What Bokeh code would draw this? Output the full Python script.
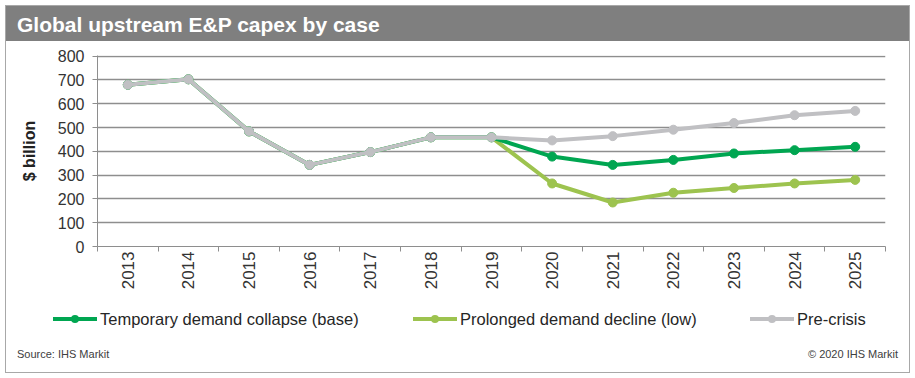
from bokeh.plotting import figure
from bokeh.layouts import column
from bokeh.models import Range1d, FixedTicker, Div
from bokeh.embed import file_html
from bokeh.resources import INLINE
from math import pi

# ---- data ----
years = [2013, 2014, 2015, 2016, 2017, 2018, 2019, 2020, 2021, 2022, 2023, 2024, 2025]
base = [680, 703, 484, 343, 397, 459, 459, 378, 343, 364, 391, 405, 419]
low = [680, 703, 484, 343, 397, 459, 459, 265, 185, 226, 246, 265, 280]
pre_crisis = [680, 703, 484, 343, 397, 459, 459, 446, 464, 491, 519, 552, 570]
y_ticks = [0, 100, 200, 300, 400, 500, 600, 700, 800]
series_names = ["Temporary demand collapse (base)", "Prolonged demand decline (low)", "Pre-crisis"]
title_text = "Global upstream E&amp;P capex by case"
source_text = "Source: IHS Markit"
copyright_text = "\u00a9 2020 IHS Markit"

C_BASE = "#00a651"
C_LOW = "#9dc34f"
C_PRE = "#c0c0c3"
series_colors = [C_BASE, C_LOW, C_PRE]
FONT = "Liberation Sans"

W = 903
H_HEAD, H_MAIN, H_LEG, H_FOOT = 35, 258, 40, 33
FL, FR, FT, FB = 91, 879, 14, 205  # frame edges in main canvas px

# ---- header (title bar) ----
head = Div(text=(
    '<div style="box-sizing:border-box;width:%dpx;height:%dpx;overflow:hidden;'
    'background:#7f7f7f;color:#ffffff;font-family:\'%s\';font-weight:bold;'
    'font-size:21px;line-height:37px;padding-left:11px;white-space:nowrap;">%s</div>'
    % (W, H_HEAD, FONT, title_text)), width=W, height=H_HEAD, margin=0)

# ---- main chart ----
p = figure(width=W, height=H_MAIN, output_backend="svg", toolbar_location=None,
           x_range=Range1d(years[0] - 0.5, years[-1] + 0.5), y_range=Range1d(0, 803),
           min_border_left=FL, min_border_right=W - FR, min_border_top=FT,
           min_border_bottom=H_MAIN - FB)
p.outline_line_color = None
p.background_fill_color = "white"
p.border_fill_color = "white"

p.xgrid.grid_line_color = None
p.ygrid.ticker = FixedTicker(ticks=y_ticks)
p.ygrid.grid_line_color = "#8e8e8e"
p.ygrid.grid_line_width = 1.3

ya = p.yaxis[0]
ya.ticker = FixedTicker(ticks=y_ticks)
ya.axis_line_color = "#8e8e8e"
ya.major_tick_line_color = "#8e8e8e"
ya.major_tick_out = 5
ya.major_tick_in = 0
ya.minor_tick_line_color = None
ya.major_label_standoff = 8
ya.major_label_text_font = FONT
ya.major_label_text_font_size = "16px"
ya.major_label_text_color = "#333333"
ya.axis_label = "$ billion"
ya.axis_label_text_font = FONT
ya.axis_label_text_font_size = "16px"
ya.axis_label_text_font_style = "bold"
ya.axis_label_text_color = "#222222"
ya.axis_label_standoff = 17

xa = p.xaxis[0]
minor = [y - 0.5 for y in years] + [years[-1] + 0.5]
xa.ticker = FixedTicker(ticks=years, minor_ticks=minor)
xa.major_label_overrides = {y: str(y) for y in years}
xa.axis_line_color = "#8e8e8e"
xa.major_tick_out = 0
xa.major_tick_in = 0
xa.minor_tick_out = 5
xa.minor_tick_in = 0
xa.minor_tick_line_color = "#8e8e8e"
xa.major_label_orientation = pi / 2
xa.major_label_standoff = 0
xa.major_label_text_font = FONT
xa.major_label_text_font_size = "17px"
xa.major_label_text_color = "#333333"

p.line(years, low, line_color=C_LOW, line_width=4)
p.scatter(years, low, size=9, fill_color=C_LOW, line_color=C_LOW)
p.line(years, base, line_color=C_BASE, line_width=4)
p.scatter(years, base, size=9, fill_color=C_BASE, line_color=C_BASE)
p.line(years, pre_crisis, line_color=C_PRE, line_width=4)
p.scatter(years, pre_crisis, size=9, fill_color=C_PRE, line_color=C_PRE)

# ---- legend row ----
legend_x = [47, 407, 744]  # swatch left edges in the legend row
items = []
for name, col, lx in zip(series_names, series_colors, legend_x):
    items.append(
        '<span style="position:absolute;left:%dpx;top:18px;width:44px;height:4px;'
        'background:%s;"></span>'
        '<span style="position:absolute;left:%dpx;top:16px;width:8px;height:8px;'
        'border-radius:50%%;background:%s;"></span>'
        '<span style="position:absolute;left:%dpx;top:10px;line-height:20px;'
        'white-space:nowrap;">%s</span>' % (lx, col, lx + 18, col, lx + 47, name))
leg = Div(text=(
    '<div style="position:relative;width:%dpx;height:%dpx;font-family:\'%s\';'
    'font-size:16.5px;color:#262626;">%s</div>' % (W, H_LEG, FONT, "".join(items))),
    width=W, height=H_LEG, margin=0)

# ---- footer ----
foot = Div(text=(
    '<div style="display:flex;justify-content:space-between;box-sizing:border-box;'
    'width:%dpx;padding:10px 11px 0 11px;font-family:\'%s\';font-size:11px;'
    'line-height:11px;color:#404040;"><span>%s</span><span>%s</span></div>'
    % (W, FONT, source_text, copyright_text)), width=W, height=H_FOOT, margin=0)

layout = column(head, p, leg, foot, spacing=0,
                styles={"border": "1px solid #a8a8a8", "margin": "5px"})

open("out.html", "w").write(file_html(layout, INLINE))
